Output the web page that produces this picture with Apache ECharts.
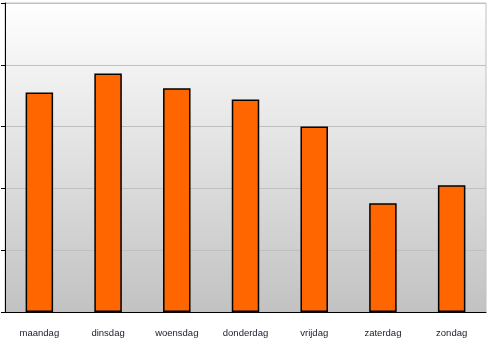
<!DOCTYPE html>
<html>
<head>
<meta charset="utf-8">
<script src="https://cdn.jsdelivr.net/npm/echarts@6/dist/echarts.min.js"></script>
<style>
  html, body { margin: 0; padding: 0; background: #ffffff; }
  #chart { width: 490px; height: 342px; }
</style>
</head>
<body>
<div id="chart"></div>
<script>
// Weekdays and their counts
const days = ['maandag', 'dinsdag', 'woensdag', 'donderdag', 'vrijdag', 'zaterdag', 'zondag'];
const counts = [355, 386, 362, 344, 300, 176, 205];
const yMax = 500;
const yStep = 100;

const chart = echarts.init(document.getElementById('chart'), null, { renderer: 'canvas' });
chart.setOption({
  animation: false,
  backgroundColor: '#ffffff',
  grid: {
    left: 5, right: 4, top: 3, bottom: 30,
    show: true,
    borderColor: '#c0c0c0',
    borderWidth: 1,
    backgroundColor: new echarts.graphic.LinearGradient(0, 0, 0, 1, [
      { offset: 0, color: '#ffffff' },
      { offset: 1, color: '#c2c2c2' }
    ])
  },
  xAxis: {
    type: 'category',
    data: days,
    axisLine: { lineStyle: { color: '#000000', width: 1 } },
    axisTick: { length: 4, lineStyle: { color: '#000000' } },
    axisLabel: {
      color: '#1a1a2a',
      fontFamily: '"Liberation Sans", Arial, sans-serif',
      fontSize: 9.5,
      margin: 16
    }
  },
  yAxis: {
    type: 'value',
    min: 0,
    max: yMax,
    interval: yStep,
    axisLine: { show: true, lineStyle: { color: '#000000', width: 1 } },
    axisTick: { show: true, length: 4, lineStyle: { color: '#000000' } },
    axisLabel: { show: false },
    splitLine: { lineStyle: { color: '#c0c0c0', width: 1 } }
  },
  series: [{
    type: 'bar',
    data: counts,
    barWidth: '40%',
    itemStyle: {
      color: '#ff6600',
      borderColor: '#000000',
      borderWidth: 1.5
    }
  }]
});
</script>
</body>
</html>
